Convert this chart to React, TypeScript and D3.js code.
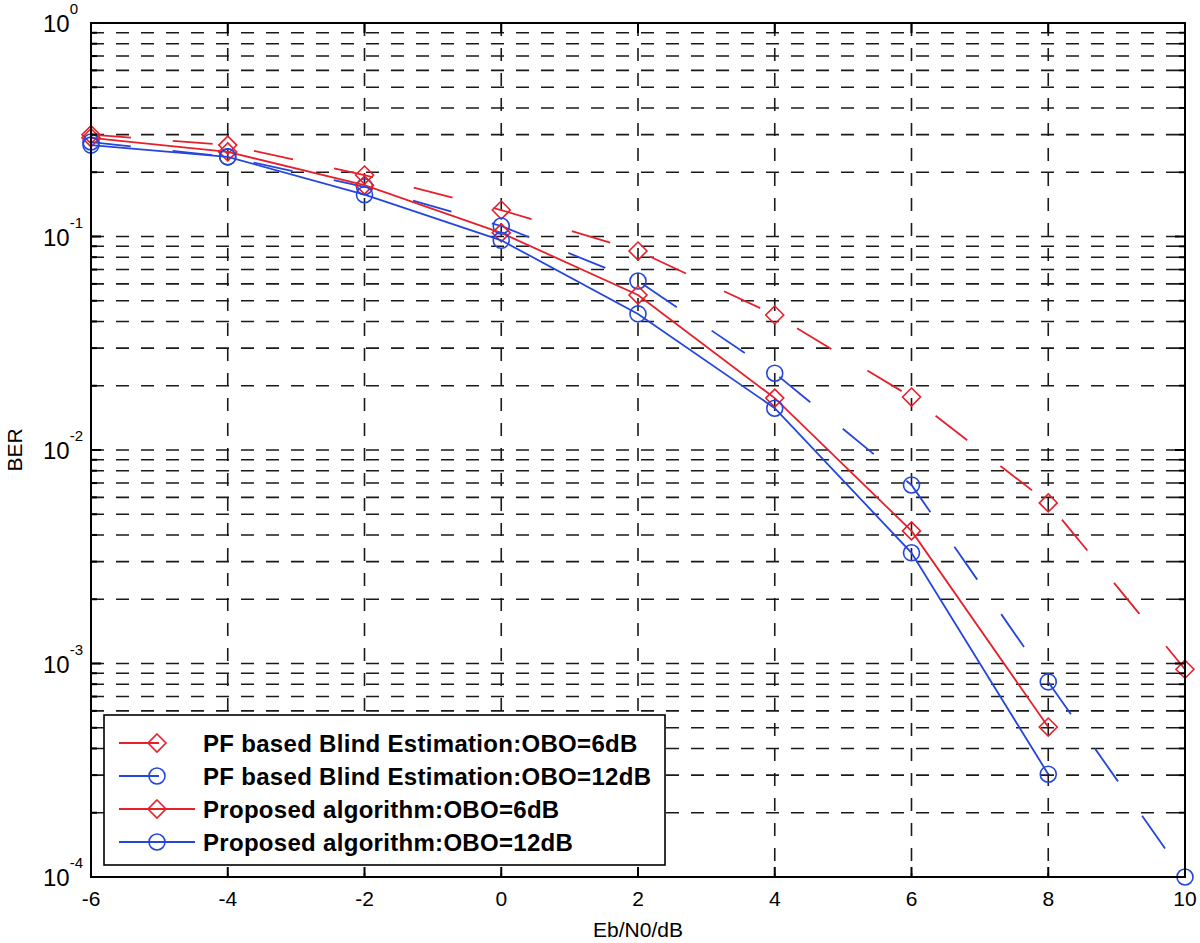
import * as React from 'react';
import * as d3 from 'd3';

// Eb/N0 in dB
const snr = [-6, -4, -2, 0, 2, 4, 6, 8, 10];

// BER values
const pfObo6 = [0.30, 0.268, 0.194, 0.133, 0.0855, 0.0429, 0.0177, 0.00565, 0.00094];
const pfObo12 = [0.277, 0.236, 0.171, 0.112, 0.0619, 0.0229, 0.00686, 0.00082, 0.0001];
const propObo6 = [0.29, 0.249, 0.174, 0.104, 0.0532, 0.0175, 0.00418, 0.000504];
const propObo12 = [0.268, 0.236, 0.157, 0.096, 0.0434, 0.0157, 0.0033, 0.000303];

const xTicks = [-6, -4, -2, 0, 2, 4, 6, 8, 10];
const yDecades = [0, -1, -2, -3, -4];

const seriesNames = [
  'PF based Blind Estimation:OBO=6dB',
  'PF based Blind Estimation:OBO=12dB',
  'Proposed algorithm:OBO=6dB',
  'Proposed algorithm:OBO=12dB',
];

const RED = '#e6202a';
const BLUE = '#2446dc';

const App = () => {
  const ref = React.useRef<SVGSVGElement | null>(null);

  React.useEffect(() => {
    if (!ref.current) return;
    const svg = d3.select(ref.current);
    svg.selectAll('*').remove();

    const left = 91, right = 1185, top = 23, bottom = 877;
    const x = d3.scaleLinear().domain([-6, 10]).range([left, right]);
    const y = d3.scaleLog().domain([1e-4, 1]).range([bottom, top]);

    svg.append('rect').attr('width', 1200).attr('height', 943).attr('fill', '#fff');

    // grid
    const grid = svg.append('g').attr('stroke', '#1a1a1a').attr('stroke-width', 1.6).attr('stroke-dasharray', '13,12');
    yDecades.slice(1).forEach((d) => {
      for (let k = 1; k <= 9; k++) {
        const v = k * Math.pow(10, d);
        if (v <= 1e-4) continue;
        grid.append('line').attr('x1', left).attr('x2', right).attr('y1', y(v)).attr('y2', y(v));
      }
    });
    xTicks.slice(1, -1).forEach((t) => {
      grid.append('line').attr('x1', x(t)).attr('x2', x(t)).attr('y1', top).attr('y2', bottom);
    });

    // series
    const series = [
      { vals: pfObo6, color: RED, dash: '40,42', marker: 'diamond' },
      { vals: pfObo12, color: BLUE, dash: '40,42', marker: 'circle' },
      { vals: propObo6, color: RED, dash: null, marker: 'diamond' },
      { vals: propObo12, color: BLUE, dash: null, marker: 'circle' },
    ];

    const line = d3.line<[number, number]>().x((d) => x(d[0])).y((d) => y(d[1]));

    const drawMarker = (g, type, cx, cy, color) => {
      if (type === 'diamond') {
        g.append('path')
          .attr('d', `M${cx},${cy - 9}L${cx + 9},${cy}L${cx},${cy + 9}L${cx - 9},${cy}Z`)
          .attr('fill', 'none').attr('stroke', color).attr('stroke-width', 1.6);
      } else {
        g.append('circle').attr('cx', cx).attr('cy', cy).attr('r', 8)
          .attr('fill', 'none').attr('stroke', color).attr('stroke-width', 1.6);
      }
    };

    const plot = svg.append('g');
    series.forEach((s) => {
      const pts = s.vals.map((v, i) => [snr[i], v] as [number, number]);
      plot.append('path').attr('d', line(pts)).attr('fill', 'none')
        .attr('stroke', s.color).attr('stroke-width', 1.8)
        .attr('stroke-dasharray', s.dash);
      pts.forEach((p) => drawMarker(plot, s.marker, x(p[0]), y(p[1]), s.color));
    });

    // axes box and ticks
    const ax = svg.append('g').attr('stroke', '#000').attr('stroke-width', 2);
    ax.append('rect').attr('x', left).attr('y', top).attr('width', right - left).attr('height', bottom - top).attr('fill', 'none');
    xTicks.forEach((t) => {
      ax.append('line').attr('x1', x(t)).attr('x2', x(t)).attr('y1', bottom).attr('y2', bottom - 10);
      ax.append('line').attr('x1', x(t)).attr('x2', x(t)).attr('y1', top).attr('y2', top + 10);
    });
    yDecades.slice(1).forEach((d) => {
      for (let k = 1; k <= 9; k++) {
        const v = k * Math.pow(10, d);
        const len = k === 1 ? 10 : 6;
        ax.append('line').attr('x1', left).attr('x2', left + len).attr('y1', y(v)).attr('y2', y(v));
        ax.append('line').attr('x1', right).attr('x2', right - len).attr('y1', y(v)).attr('y2', y(v));
      }
    });

    const font = 'Liberation Sans, Arial, Helvetica, sans-serif';

    // x tick labels
    svg.append('g').selectAll('text').data(xTicks).enter().append('text')
      .attr('x', (d) => x(d)).attr('y', 906)
      .attr('text-anchor', 'middle').attr('font-family', font).attr('font-size', 21)
      .text((d) => String(d));

    // y tick labels 10^n
    yDecades.forEach((d) => {
      const t = svg.append('text').attr('x', 43).attr('y', y(Math.pow(10, d)) + 9)
        .attr('font-family', font).attr('font-size', 24);
      t.append('tspan').text('10');
      t.append('tspan').attr('dy', -18).attr('font-size', 15).text(String(d));
    });

    svg.append('text').attr('x', 638).attr('y', 937).attr('text-anchor', 'middle')
      .attr('font-family', font).attr('font-size', 21).text('Eb/N0/dB');
    svg.append('text').attr('transform', 'translate(22,450) rotate(-90)').attr('text-anchor', 'middle')
      .attr('font-family', font).attr('font-size', 21).text('BER');

    // legend
    const lg = svg.append('g');
    lg.append('rect').attr('x', 104).attr('y', 715).attr('width', 561).attr('height', 150)
      .attr('fill', '#fff').attr('stroke', '#000').attr('stroke-width', 1.6);
    seriesNames.forEach((name, i) => {
      const s = series[i];
      const ry = 743 + i * 33;
      lg.append('line').attr('x1', 119).attr('x2', 195).attr('y1', ry).attr('y2', ry)
        .attr('stroke', s.color).attr('stroke-width', 1.8).attr('stroke-dasharray', s.dash);
      drawMarker(lg, s.marker, 157, ry, s.color);
      lg.append('text').attr('x', 203).attr('y', ry + 9)
        .attr('font-family', font).attr('font-size', 24).attr('font-weight', 'bold')
        .attr('letter-spacing', 0.3).text(name);
    });
  }, []);

  return <svg ref={ref} width={1200} height={943} style={{ position: 'absolute', left: 0, top: 0 }} />;
};

export default App;
